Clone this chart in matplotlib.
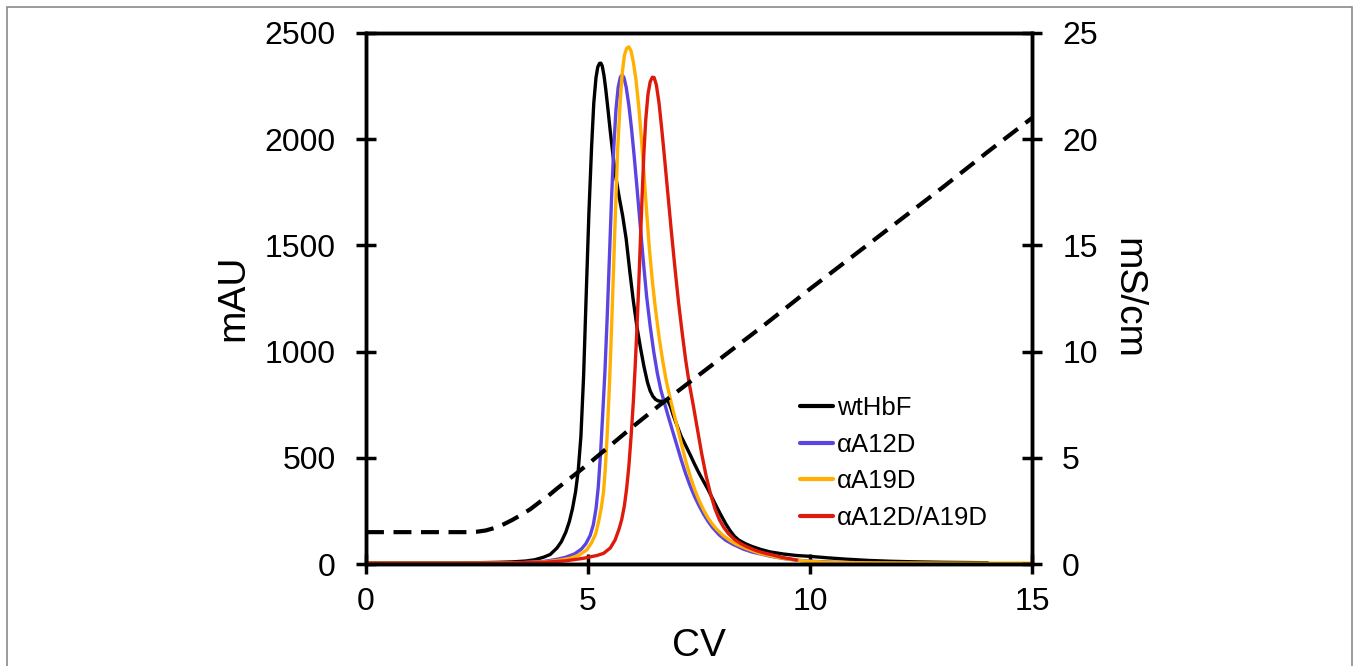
import matplotlib
matplotlib.use("Agg")
import matplotlib.pyplot as plt
from matplotlib.patches import Rectangle

plt.rcParams['font.family'] = ['Liberation Sans', 'DejaVu Sans']

# ---- data ----
wt_x = [0, 1, 2, 2.5, 3.0, 3.3, 3.6, 3.8, 4.0, 4.15, 4.3, 4.4, 4.5, 4.58, 4.65, 4.72, 4.78,
        4.84, 4.9, 4.96, 5.02, 5.08, 5.13, 5.18, 5.22, 5.26, 5.29, 5.32, 5.36, 5.4, 5.45,
        5.5, 5.56, 5.62, 5.7, 5.78, 5.86, 5.94, 6.02, 6.1, 6.18, 6.26, 6.34, 6.4, 6.46,
        6.52, 6.58, 6.64, 6.7, 6.75, 6.8, 6.86, 6.92, 7.0, 7.1, 7.2, 7.3, 7.4, 7.5, 7.6,
        7.7, 7.8, 7.9, 8.0, 8.1, 8.2, 8.3, 8.4, 8.55, 8.7, 8.9, 9.1, 9.4, 9.7, 10.0, 10.4,
        10.8, 11.3, 11.8, 12.4, 13.0, 13.5, 14.0]
wt_y = [5, 5, 5, 6, 8, 10, 14, 20, 32, 45, 75, 105, 150, 200, 260, 340, 440,
        600, 880, 1270, 1650, 1960, 2170, 2290, 2340, 2357, 2358, 2345, 2300, 2235, 2140,
        2040, 1930, 1830, 1730, 1640, 1530, 1380, 1240, 1120, 1020, 930, 855, 815, 790,
        775, 768, 766, 768, 772, 768, 740, 700, 655, 600, 558, 515, 470, 428, 390,
        352, 310, 268, 228, 190, 157, 130, 112, 95, 82, 68, 57, 47, 40, 36, 29,
        23, 17, 13, 10, 8, 7, 6]

a12_x = [0, 2, 3, 3.5, 4.0, 4.3, 4.5, 4.7, 4.85, 4.95, 5.05, 5.12, 5.18, 5.23, 5.28, 5.33,
         5.38, 5.43, 5.48, 5.53, 5.58, 5.63, 5.68, 5.73, 5.77, 5.81, 5.86, 5.92, 5.98,
         6.04, 6.1, 6.17, 6.24, 6.32, 6.4, 6.48, 6.56, 6.64, 6.72, 6.8, 6.9, 7.0, 7.1,
         7.2, 7.3, 7.4, 7.5, 7.6, 7.7, 7.8, 7.95, 8.1, 8.27, 8.5, 8.7, 8.87, 9.1, 9.4,
         9.7, 10.0, 10.5, 11.0]
a12_y = [4, 4, 5, 7, 12, 22, 32, 48, 70, 95, 135, 185, 260, 360, 510, 700,
         900, 1150, 1430, 1720, 1960, 2140, 2245, 2293, 2303, 2290, 2245, 2160, 2050,
         1920, 1780, 1610, 1440, 1260, 1120, 1000, 900, 820, 760, 700, 630, 560, 490,
         425, 368, 318, 275, 236, 202, 173, 138, 112, 92, 70, 56, 48, 37, 26,
         18, 13, 9, 7]

a19_x = [0, 2, 3, 3.5, 4.0, 4.3, 4.6, 4.8, 4.97, 5.08, 5.17, 5.24, 5.3, 5.35, 5.39, 5.43,
         5.47, 5.51, 5.55, 5.59, 5.63, 5.67, 5.72, 5.77, 5.82, 5.87, 5.92, 5.97, 6.02,
         6.08, 6.14, 6.2, 6.26, 6.32, 6.38, 6.45, 6.52, 6.6, 6.68, 6.76, 6.84, 6.92, 7.0,
         7.1, 7.2, 7.3, 7.4, 7.5, 7.6, 7.7, 7.8, 7.9, 8.05, 8.2, 8.35, 8.6, 8.87, 9.2,
         9.55, 9.9, 10.3, 11.0, 12.0, 13.5, 15.0]
a19_y = [4, 4, 5, 6, 10, 16, 27, 42, 66, 100, 140, 200, 265, 340, 450, 600,
         780, 990, 1230, 1480, 1730, 1960, 2160, 2310, 2395, 2428, 2435, 2415, 2365,
         2280, 2160, 2010, 1840, 1660, 1490, 1330, 1200, 1070, 960, 865, 790, 720, 655,
         570, 485, 415, 352, 300, 256, 218, 188, 163, 133, 110, 92, 70, 50, 34,
         22, 14, 9, 6, 5, 4, 4]

dbl_x = [0, 2, 3, 4, 4.5, 4.9, 5.2, 5.35, 5.5, 5.61, 5.7, 5.76, 5.82, 5.87, 5.92, 5.97,
         6.02, 6.06, 6.1, 6.14, 6.18, 6.22, 6.26, 6.3, 6.35, 6.4, 6.45, 6.49, 6.54, 6.6,
         6.66, 6.72, 6.8, 6.88, 6.96, 7.04, 7.12, 7.2, 7.28, 7.36, 7.46, 7.56, 7.66, 7.76,
         7.86, 7.96, 8.06, 8.16, 8.3, 8.45, 8.57, 8.8, 9.0, 9.17, 9.4, 9.7]
dbl_y = [3, 3, 4, 8, 15, 27, 40, 50, 75, 113, 165, 210, 275, 355, 460, 600,
         760, 920, 1100, 1300, 1520, 1740, 1940, 2090, 2210, 2270, 2292, 2290, 2255, 2170,
         2050, 1920, 1740, 1560, 1390, 1230, 1090, 960, 850, 760, 640, 520, 415, 330,
         260, 208, 172, 144, 115, 95, 82, 62, 50, 42, 30, 19]

cond_x = [0, 2.3, 2.5, 2.7, 2.9, 3.1, 3.3, 3.5, 3.7, 3.92, 4.1, 4.3, 4.5, 4.76, 5.0, 6.0,
          6.62, 7.0, 8.0, 9.0, 10.0, 11.0, 12.0, 13.0, 14.0, 15.0]
cond_y = [1.5, 1.5, 1.52, 1.58, 1.7, 1.87, 2.08, 2.32, 2.58, 2.93, 3.2, 3.55, 3.88, 4.3,
          4.7, 6.45, 7.49, 8.1, 9.7, 11.3, 12.95, 14.55, 16.15, 17.75, 19.4, 21.0]

series = [
    ("wtHbF", wt_x, wt_y, "#000000"),
    ("\u03b1A12D", a12_x, a12_y, "#5B45E0"),
    ("\u03b1A19D", a19_x, a19_y, "#FFB000"),
    ("\u03b1A12D/A19D", dbl_x, dbl_y, "#DD1A0C"),
]

x_ticks = [0, 5, 10, 15]
y_ticks = [0, 500, 1000, 1500, 2000, 2500]
y2_ticks = [0, 5, 10, 15, 20, 25]

W, H = 1360, 666
fig = plt.figure(figsize=(W / 100, H / 100), dpi=100)
fig.patches.append(Rectangle((7 / W, -0.05), (1352 - 7) / W, 1.05 - 7 / H,
                             transform=fig.transFigure, fill=False,
                             edgecolor="#8a8a8a", linewidth=1.2))

ax = fig.add_axes([366 / W, 1 - 564 / H, 666 / W, 531 / H])
ax2 = ax.twinx()

for name, xs, ys, c in series:
    ax.plot(xs, ys, color=c, lw=2.4, label=name,
            solid_joinstyle="round", solid_capstyle="round")

ax2.plot(cond_x, cond_y, color="black", lw=3.0, ls=(0, (4.3, 2.3)))

ax.set_xlim(0, 15)
ax.set_ylim(0, 2500)
ax2.set_ylim(0, 25)
ax.set_xticks(x_ticks)
ax.set_yticks(y_ticks)
ax2.set_yticks(y2_ticks)

for a in (ax, ax2):
    for s in a.spines.values():
        s.set_linewidth(2.5)
        s.set_color("black")

ax.tick_params(axis="both", direction="inout", length=14.4, width=2.5, labelsize=23)
ax.tick_params(axis="y", pad=14.5, right=False)
ax.tick_params(axis="x", pad=9.0, top=False)
ax2.tick_params(axis="y", direction="inout", length=14.4, width=2.5, labelsize=23, pad=14.5)

fig.text(233 / W, 1 - 298 / H, "mAU", rotation=90, ha="center", va="center", fontsize=28)
fig.text(1127 / W, 1 - 298 / H, "mS/cm", rotation=-90, ha="center", va="center", fontsize=28)
fig.text(699 / W, 1 - 646 / H, "CV", ha="center", va="center", fontsize=28)

leg = ax.legend(loc="upper left", bbox_to_anchor=(800 / W, 1 - 396 / H),
                bbox_transform=fig.transFigure, frameon=False, fontsize=18.5,
                handlelength=1.29, handletextpad=0.15, labelspacing=0.49,
                borderpad=0, borderaxespad=0)
for line in leg.get_lines():
    line.set_linewidth(3.0)

fig.savefig("out.png", dpi=100)
